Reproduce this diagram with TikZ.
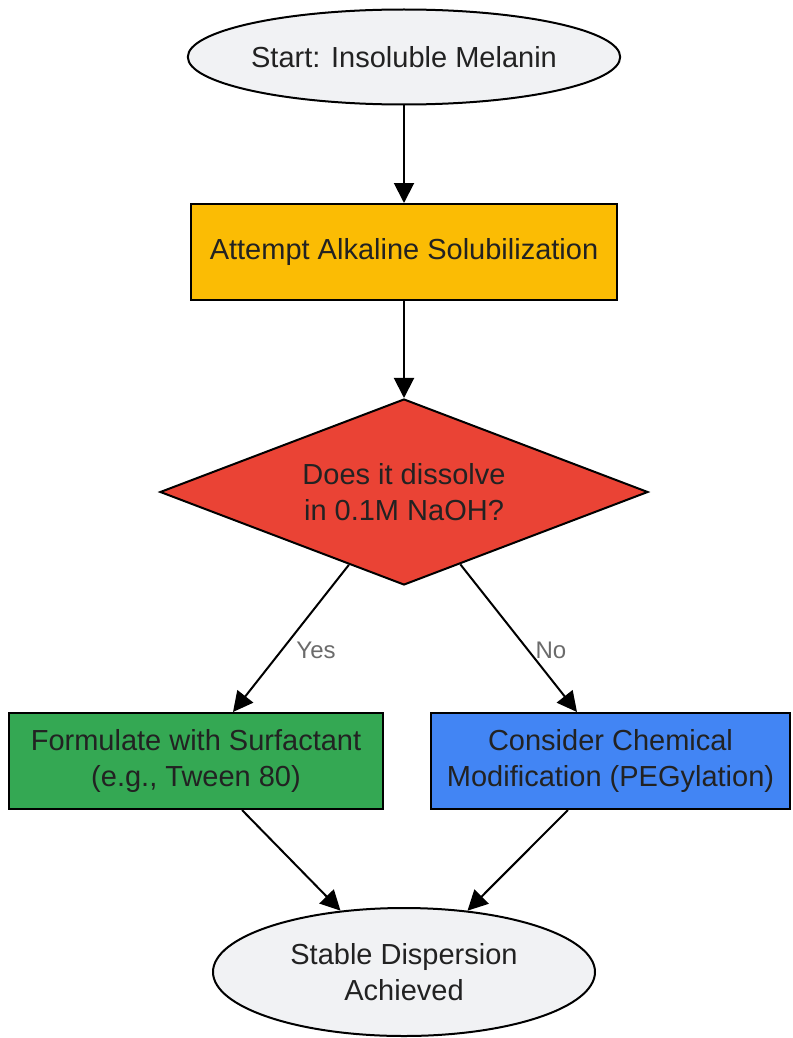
\documentclass[tikz,border=0pt]{standalone}
\usepackage{fontspec}
\setmainfont{Liberation Sans}
\usetikzlibrary{shapes.geometric,arrows.meta,calc}
\definecolor{termfill}{HTML}{F1F2F4}
\definecolor{yellowfill}{HTML}{FBBC04}
\definecolor{redfill}{HTML}{EA4335}
\definecolor{greenfill}{HTML}{34A853}
\definecolor{bluefill}{HTML}{4285F4}
\definecolor{txt}{HTML}{222222}
\definecolor{lbl}{HTML}{6B6B6B}
\tikzset{
  base/.style={draw=black, line width=2pt, text=txt, align=center, inner sep=0pt,
    font=\fontsize{29}{36}\selectfont},
  term/.style={base, ellipse, fill=termfill},
  procbox/.style={base, rectangle, fill=#1},
  decision/.style={base, diamond, fill=redfill, aspect=2.62},
  conn/.style={line width=2pt, -{Triangle[length=20pt,width=20pt]}},
  edgelabel/.style={text=lbl, font=\fontsize{24}{28}\selectfont, inner sep=0pt}
}
\begin{document}
\begin{tikzpicture}[x=1pt,y=-1pt]
\useasboundingbox (0,0) rectangle (792,1038);
\node[term, minimum width=428pt, minimum height=95pt] (start) at (404,57) {Start: Insoluble Melanin};
\node[procbox=yellowfill, minimum width=426pt, minimum height=96pt] (attempt) at (404,252) {Attempt Alkaline Solubilization};
\node[decision, minimum width=488pt, minimum height=186pt] (dec) at (404,492) {Does it dissolve\\in 0.1M NaOH?};
\node[procbox=greenfill, minimum width=374pt, minimum height=96pt] (form) at (196,761) {Formulate with Surfactant\\(e.g., Tween 80)};
\node[procbox=bluefill, minimum width=359pt, minimum height=96pt] (cons) at (610.5,761) {Consider Chemical\\Modification (PEGylation)};
\node[term, minimum width=382pt, minimum height=128pt] (end) at (404,972) {Stable Dispersion\\Achieved};

\draw[conn] (start) -- (attempt);
\draw[conn] (attempt) -- (dec);
\draw[conn] ($(dec.south)!0.225!(dec.west)$) -- ([xshift=37pt]form.north);
\draw[conn] ($(dec.south)!0.23!(dec.east)$) -- ([xshift=-33.5pt]cons.north);
\draw[conn] ([xshift=46pt]form.south) -- (end.136);
\draw[conn] ([xshift=-42.5pt]cons.south) -- (end.44);

\node[edgelabel] (yes) at (316,650) {Yes};
\node[edgelabel] (no) at (551,650) {No};
\end{tikzpicture}
\end{document}
